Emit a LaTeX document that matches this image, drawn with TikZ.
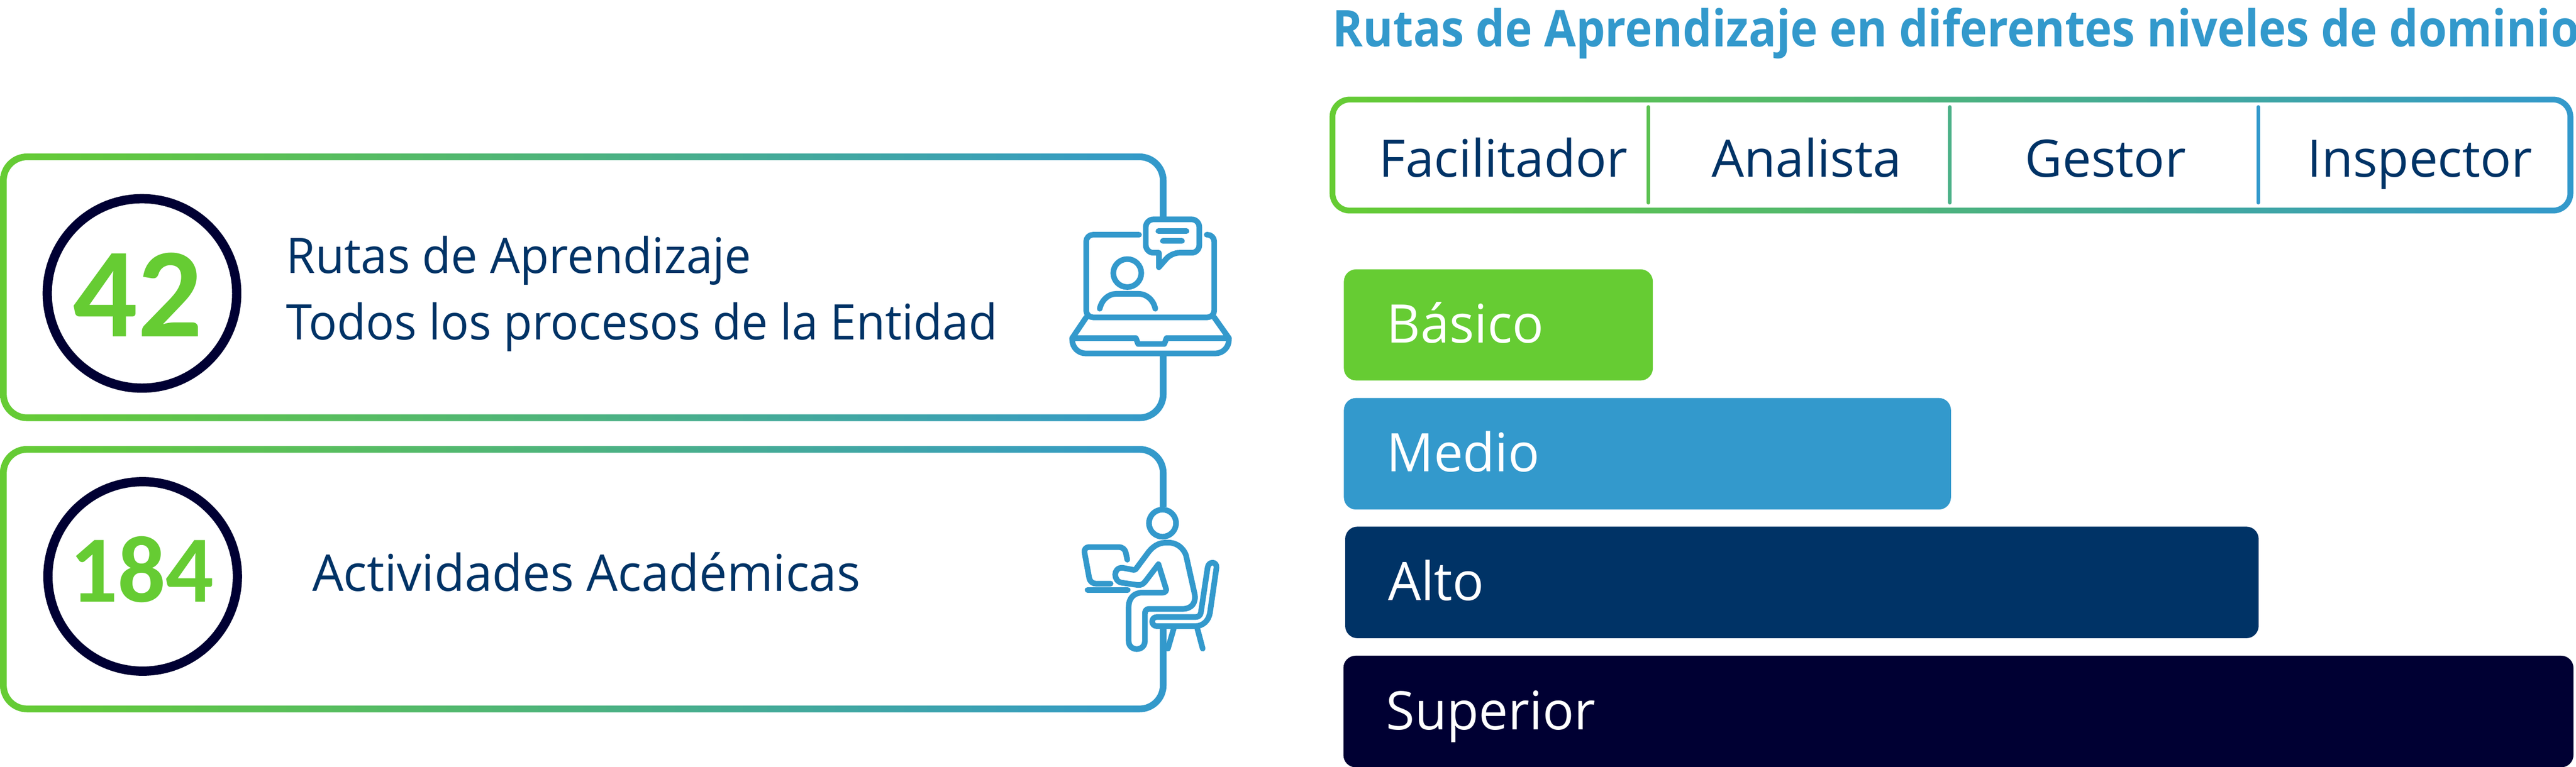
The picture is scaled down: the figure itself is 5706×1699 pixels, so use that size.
\documentclass[tikz,border=0pt]{standalone}
\usepackage{fontspec}
\setmainfont{Open Sans}
\newfontfamily\numfont{Carlito}
\newfontfamily\titlefont{Open Sans Bold}[FakeStretch=0.91]
\usetikzlibrary{positioning}
\definecolor{rutagreen}{HTML}{66CC33}
\definecolor{rutablue}{HTML}{3399CC}
\definecolor{rutanavy}{HTML}{003366}
\definecolor{rutadark}{HTML}{000033}
\newcommand\DrawFrame[6]{
  \shade[left color=rutagreen,right color=rutablue,rounded corners=#5cm] (#1,#2) rectangle (#3,#4);
  \fill[white,rounded corners=#5cm-#6cm] (#1+#6*100,#2+#6*100) rectangle (#3-#6*100,#4-#6*100);
}
\tikzset{
  bodytext/.style 2 args={anchor=base west,inner sep=0pt,text=rutanavy,font=\fontsize{#1}{38}\selectfont\addfontfeature{FakeStretch=#2}},
  titletext/.style={anchor=base west,inner sep=0pt,text=rutablue,font=\titlefont\fontsize{31.9}{38}\selectfont},
  numtext/.style={anchor=base,inner sep=0pt,text=rutagreen,font=\numfont\bfseries\fontsize{#1}{#1}\selectfont},
  ringbox/.style={circle,draw=rutadark,line width=0.205cm,minimum size=4.195cm,inner sep=0pt},
  barbox/.style={anchor=north west,rounded corners=0.27cm,text=white,align=left,inner xsep=0.95cm,inner ysep=0pt,
    minimum height=#1cm,text height=1cm,text depth=0.2cm,font=\fontsize{33.5}{38}\selectfont\addfontfeature{FakeStretch=0.98}},
  iconline/.style={draw=rutablue,line width=0.125cm,line cap=round,line join=round},
  divider/.style={line width=0.08cm,line cap=round}
}

\begin{document}
\begin{tikzpicture}[x=0.01cm,y=-0.01cm]
\useasboundingbox (0,0) rectangle (5706,1699);

\DrawFrame{0}{340}{2584}{933}{0.6}{0.15}
\DrawFrame{0}{988}{2584}{1578}{0.6}{0.15}
\DrawFrame{2945}{214}{5700}{473}{0.45}{0.13}
\fill[white] (2560,480) rectangle (2590,789);
\fill[white] (2560,1123) rectangle (2590,1393);

\node[titletext] (titulo) at (2951,103) {Rutas de Aprendizaje en diferentes niveles de dominio};
\node[bodytext={32.5}{0.995}] (facilitador) at (3054,392) {Facilitador};
\node[bodytext={32.5}{0.995}] (analista) at (3791,392) {Analista};
\node[bodytext={32.5}{0.995}] (gestor) at (4485,392) {Gestor};
\node[bodytext={32.5}{0.995}] (inspector) at (5110,392) {Inspector};
\draw[divider,rutagreen!80!rutablue] (3651,237) -- (3651,449);
\draw[divider,rutagreen!45!rutablue] (4319,237) -- (4319,449);
\draw[divider,rutablue] (5002,237) -- (5002,449);

\node[barbox=2.46,fill=rutagreen,text width=4.94cm] (basico) at (2976,596) {Básico};
\node[barbox=2.47,fill=rutablue,text width=11.54cm] (medio) at (2976,881) {Medio};
\node[barbox=2.47,fill=rutanavy,text width=18.32cm] (alto) at (2979,1166) {Alto};
\node[barbox=2.47,fill=rutadark,text width=25.33cm] (superior) at (2975,1452) {Superior};

\node[ringbox] (ringa) at (314.5,650) {};
\node[ringbox] (ringb) at (316,1277) {};
\node[numtext=80.5] (numa) at (305,746) {42};
\node[numtext=59.8] (numb) at (314,1334) {184};
\node[bodytext={30.9}{0.965}] (rutas) at (633,605) {Rutas de Aprendizaje};
\node[bodytext={30.9}{0.957}] (todos) at (633,753) {Todos los procesos de la Entidad};
\node[bodytext={31.9}{0.977}] (actividades) at (691,1309) {Actividades Académicas};

\draw[iconline,rounded corners=0.15cm] (2523,520) -- (2406,520) -- (2406,703) -- (2689.5,703) -- (2689.5,520) -- (2673,520);
\draw[iconline,rounded corners=0.17cm] (2538,486) -- (2656.5,486) -- (2656.5,560) -- (2595,560) [sharp corners] -- (2567,592) -- (2567,560) [rounded corners=0.17cm] -- (2538,560) -- cycle;
\draw[iconline] (2566,512) -- (2628,512);
\draw[iconline] (2576,534) -- (2618,534);
\draw[iconline] (2497,605) circle (31);
\draw[iconline] (2436,684) .. controls (2440,665) and (2455,651) .. (2472,651) -- (2522,651) .. controls (2540,651) and (2555,665) .. (2559,684);
\draw[iconline] (2406,703) -- (2375,749) -- (2516,749) -- (2521,762) -- (2579,762) -- (2584,749) -- (2722,749) -- (2689.5,703);
\draw[iconline,rounded corners=0.3cm] (2375,749) -- (2375,783) -- (2722,783) -- (2722,749);

\draw[iconline] (2575,1159) circle (30);
\draw[iconline,rounded corners=0.12cm] (2497,1240) -- (2491,1212) -- (2400,1212) -- (2415,1293) -- (2460,1293);
\draw[iconline] (2409,1307) -- (2498,1307);
\draw[iconline] (2544,1223) -- (2518,1258) .. controls (2515,1263) and (2512,1263) .. (2508,1262) -- (2487,1258) .. controls (2465,1256) and (2465,1288) .. (2485,1291) -- (2520,1296) .. controls (2528,1297) and (2533,1293) .. (2537,1288) -- (2566,1250) -- (2583,1305) .. controls (2584,1310) and (2580,1313) .. (2574,1313) -- (2530,1313) .. controls (2512,1313) and (2500,1325) .. (2500,1345) -- (2500,1420) .. controls (2500,1444) and (2536,1444) .. (2536,1420) -- (2536,1360) .. controls (2536,1353) and (2539,1349) .. (2545,1349) -- (2619,1349) .. controls (2640,1349) and (2650,1335) .. (2646,1315) -- (2627,1230) .. controls (2620,1212) and (2605,1202) .. (2587,1202) .. controls (2570,1202) and (2558,1206) .. (2544,1223) -- cycle;
\draw[iconline] (2562,1367) -- (2648,1367) .. controls (2655,1367) and (2659,1363) .. (2660,1357) -- (2675,1257) .. controls (2677,1243) and (2696,1243) .. (2694.5,1258) -- (2680,1358) .. controls (2677,1375) and (2665,1387) .. (2648,1387) -- (2562,1387) .. controls (2549,1387) and (2549,1367) .. (2562,1367) -- cycle;
\draw[iconline] (2600,1392) -- (2587,1437);
\draw[iconline] (2652,1392) -- (2664,1437);
\end{tikzpicture}
\end{document}
